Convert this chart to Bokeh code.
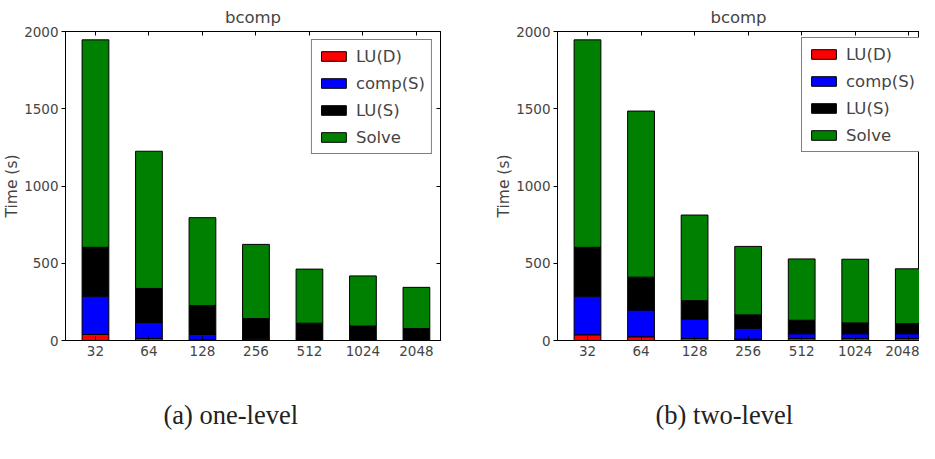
from bokeh.plotting import figure
from bokeh.layouts import row
from bokeh.models import Range1d, LinearAxis, FixedTicker, Legend, Title, CustomJSTickFormatter
from bokeh.embed import file_html
from bokeh.resources import INLINE

categories = ["32", "64", "128", "256", "512", "1024", "2048"]
series_names = ["LU(D)", "comp(S)", "LU(S)", "Solve"]
colors = ["#ff0000", "#0000ff", "#000000", "#008000"]

# one-level: stacked segment values (s)
one_lud = [39, 13, 4, 2, 1, 1, 1]
one_comp = [248, 103, 35, 9, 2, 1, 1]
one_lus = [316, 221, 187, 131, 109, 92, 75]
one_solve = [1343, 888, 569, 480, 350, 324, 267]

# two-level: stacked segment values (s)
two_lud = [37, 24, 13, 9, 13, 13, 13]
two_comp = [250, 173, 125, 70, 31, 31, 31]
two_lus = [316, 213, 120, 87, 87, 70, 66]
two_solve = [1343, 1075, 554, 443, 397, 412, 354]

y_ticks = [0, 500, 1000, 1500, 2000]
title_text = "bcomp"
captions = ["(a) one-level", "(b) two-level"]
y_label = "Time (s)"

SANS = "DejaVu Sans"


def blank_axis(ticks):
    return LinearAxis(ticker=FixedTicker(ticks=ticks), major_tick_in=4, major_tick_out=0,
                      formatter=CustomJSTickFormatter(code="return ''"),
                      major_label_standoff=0, minor_tick_line_color=None,
                      axis_line_color="black")


def spacer_axis(size, ticks):
    return LinearAxis(ticker=FixedTicker(ticks=ticks), major_tick_in=0, major_tick_out=size,
                      major_tick_line_color="white", major_tick_line_alpha=0.0,
                      minor_tick_line_color=None, minor_tick_out=0, minor_tick_in=0,
                      formatter=CustomJSTickFormatter(code="return ''"),
                      major_label_standoff=0, axis_line_color=None)


def make_chart(values, caption, width, x_end, min_left, min_right, legend_loc,
               title_offset, right_axis):
    xs = list(range(len(categories)))
    data = {"x": xs}
    for name, vals in zip(series_names, values):
        data[name] = vals
    p = figure(width=width, height=434, output_backend="svg", toolbar_location=None,
               x_range=Range1d(-0.56, x_end), y_range=Range1d(0, 2000),
               min_border_left=min_left, min_border_right=min_right,
               min_border_top=30, min_border_bottom=94)
    rs = p.vbar_stack(series_names, x="x", width=0.5, source=data, color=colors,
                      line_color="black", line_width=1)
    p.xgrid.visible = False
    p.ygrid.visible = False
    p.outline_line_color = "black"
    p.outline_line_width = 1
    p.background_fill_color = "white"

    p.title.text = title_text
    p.title.align = "center"
    p.title.text_font = SANS
    p.title.text_font_size = "16.5px"
    p.title.text_font_style = "normal"
    p.title.offset = title_offset

    xa = p.xaxis[0]
    xa.ticker = FixedTicker(ticks=xs)
    xa.major_label_overrides = {i: c for i, c in enumerate(categories)}
    xa.major_tick_in = 4
    xa.major_tick_out = 0
    xa.minor_tick_line_color = None
    xa.major_label_text_font = SANS
    xa.major_label_text_font_size = "13.5px"
    xa.major_label_standoff = 5
    xa.axis_line_color = "black"

    ya = p.yaxis[0]
    ya.ticker = FixedTicker(ticks=y_ticks)
    ya.major_tick_in = 0
    ya.major_tick_out = 4
    ya.minor_tick_line_color = None
    ya.major_label_text_font = SANS
    ya.major_label_text_font_size = "13.5px"
    ya.major_label_standoff = 3
    ya.axis_label = y_label
    ya.axis_label_text_font = SANS
    ya.axis_label_text_font_size = "15.5px"
    ya.axis_label_text_font_style = "normal"
    ya.axis_label_standoff = 0
    ya.axis_line_color = "black"

    p.add_layout(blank_axis(xs), "above")
    if right_axis:
        p.add_layout(blank_axis(y_ticks), "right")

    p.add_layout(spacer_axis(41, xs[:1]), "below")
    cap = Title(text=caption, align="left", offset=98, standoff=0,
                vertical_align="top",
                text_font="Liberation Serif", text_font_size="26.5px",
                text_font_style="normal", text_color="#222222")
    p.add_layout(cap, "below")

    legend = Legend(items=[(n, [r]) for n, r in zip(series_names, rs)],
                    location=legend_loc,
                    label_text_font=SANS, label_text_font_size="16.5px",
                    label_height=20, glyph_height=12, glyph_width=31,
                    spacing=7, padding=6, margin=8, label_standoff=7,
                    border_line_color="black", border_line_width=1,
                    background_fill_color="white", background_fill_alpha=1.0)
    p.add_layout(legend, "center")
    return p


p1 = make_chart([one_lud, one_comp, one_lus, one_solve], captions[0], 460, 6.45, 57, 20,
                "top_right", 0, True)
p2 = make_chart([two_lud, two_comp, two_lus, two_solve], captions[1], 459, 6.2, 97, 0,
                (244, 188), 6, False)

layout = row(p1, p2)
open("out.html", "w").write(file_html(layout, INLINE))
